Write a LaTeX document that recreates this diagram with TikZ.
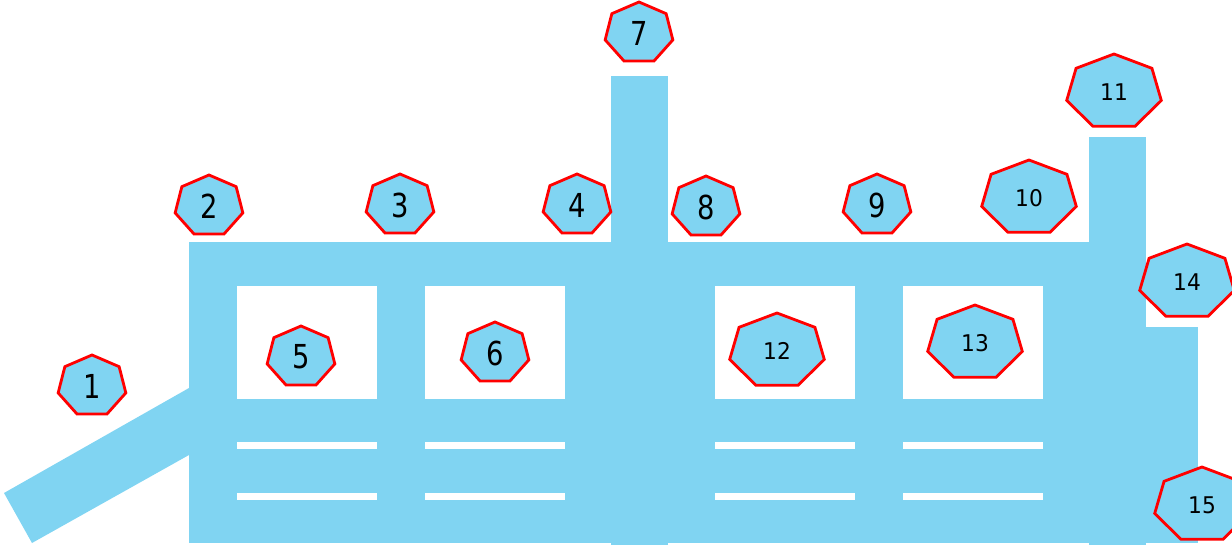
\documentclass[tikz,border=0pt]{standalone}
\usepackage{fontspec}
\setmainfont{DejaVu Sans}
\setsansfont{DejaVu Sans}
\usepackage{graphicx}
\usetikzlibrary{shapes.geometric}
\definecolor{cBody}{RGB}{128, 212, 242}
\definecolor{cEdge}{RGB}{255, 0, 0}
\tikzset{
    font=\sffamily,
    part/.style={fill=cBody, draw=none},
    hole/.style={fill=white, draw=none},
    tagSmall/.style={
        regular polygon, regular polygon sides=7,
        draw=cEdge, line width=2.8pt, fill=cBody,
        inner sep=0pt, minimum size=62pt, xscale=1.12,
        font=\fontsize{33}{33}\selectfont
    },
    tagLarge/.style={
        tagSmall, minimum size=76pt, xscale=1.14,
        font=\fontsize{23}{23}\selectfont
    }
}
\newcommand{\narrow}[1]{\scalebox{0.74}[1]{#1}}

\begin{document}
\begin{tikzpicture}[x=1pt, y=-1pt]
    \useasboundingbox (0,0) rectangle (1232,548);

    % body
    \fill[part] (4,493) -- (32,543) -- (189,455) -- (189,388) -- cycle;
    \fill[part] (189,242) rectangle (1089,543);
    \fill[part] (611,76) rectangle (668,545);
    \fill[part] (1089,137) rectangle (1146,545);
    \fill[part] (1146,327) rectangle (1198,543);

    % windows and slats
    \foreach \wx in {237, 425, 715, 903} {
        \fill[hole] (\wx,286) rectangle ++(140,113);
        \fill[hole] (\wx,442) rectangle ++(140,7);
        \fill[hole] (\wx,493) rectangle ++(140,7);
    }

    % tags
    \node[tagSmall] (t1) at (92,386) {\narrow{1}};
    \node[tagSmall] (t2) at (209,206) {\narrow{2}};
    \node[tagSmall] (t3) at (400,205) {\narrow{3}};
    \node[tagSmall] (t4) at (577,205) {\narrow{4}};
    \node[tagSmall] (t5) at (301,357) {\narrow{5}};
    \node[tagSmall] (t6) at (495,353) {\narrow{6}};
    \node[tagSmall] (t7) at (639,33) {\narrow{7}};
    \node[tagSmall] (t8) at (706,207) {\narrow{8}};
    \node[tagSmall] (t9) at (877,205) {\narrow{9}};
    \node[tagLarge] (t10) at (1029,198) {\narrow{10}};
    \node[tagLarge] (t11) at (1114,92) {\narrow{11}};
    \node[tagLarge] (t12) at (777,351) {\narrow{12}};
    \node[tagLarge] (t13) at (975,343) {\narrow{13}};
    \node[tagLarge] (t14) at (1187,282) {\narrow{14}};
    \node[tagLarge] (t15) at (1202,505) {\narrow{15}};
\end{tikzpicture}
\end{document}
